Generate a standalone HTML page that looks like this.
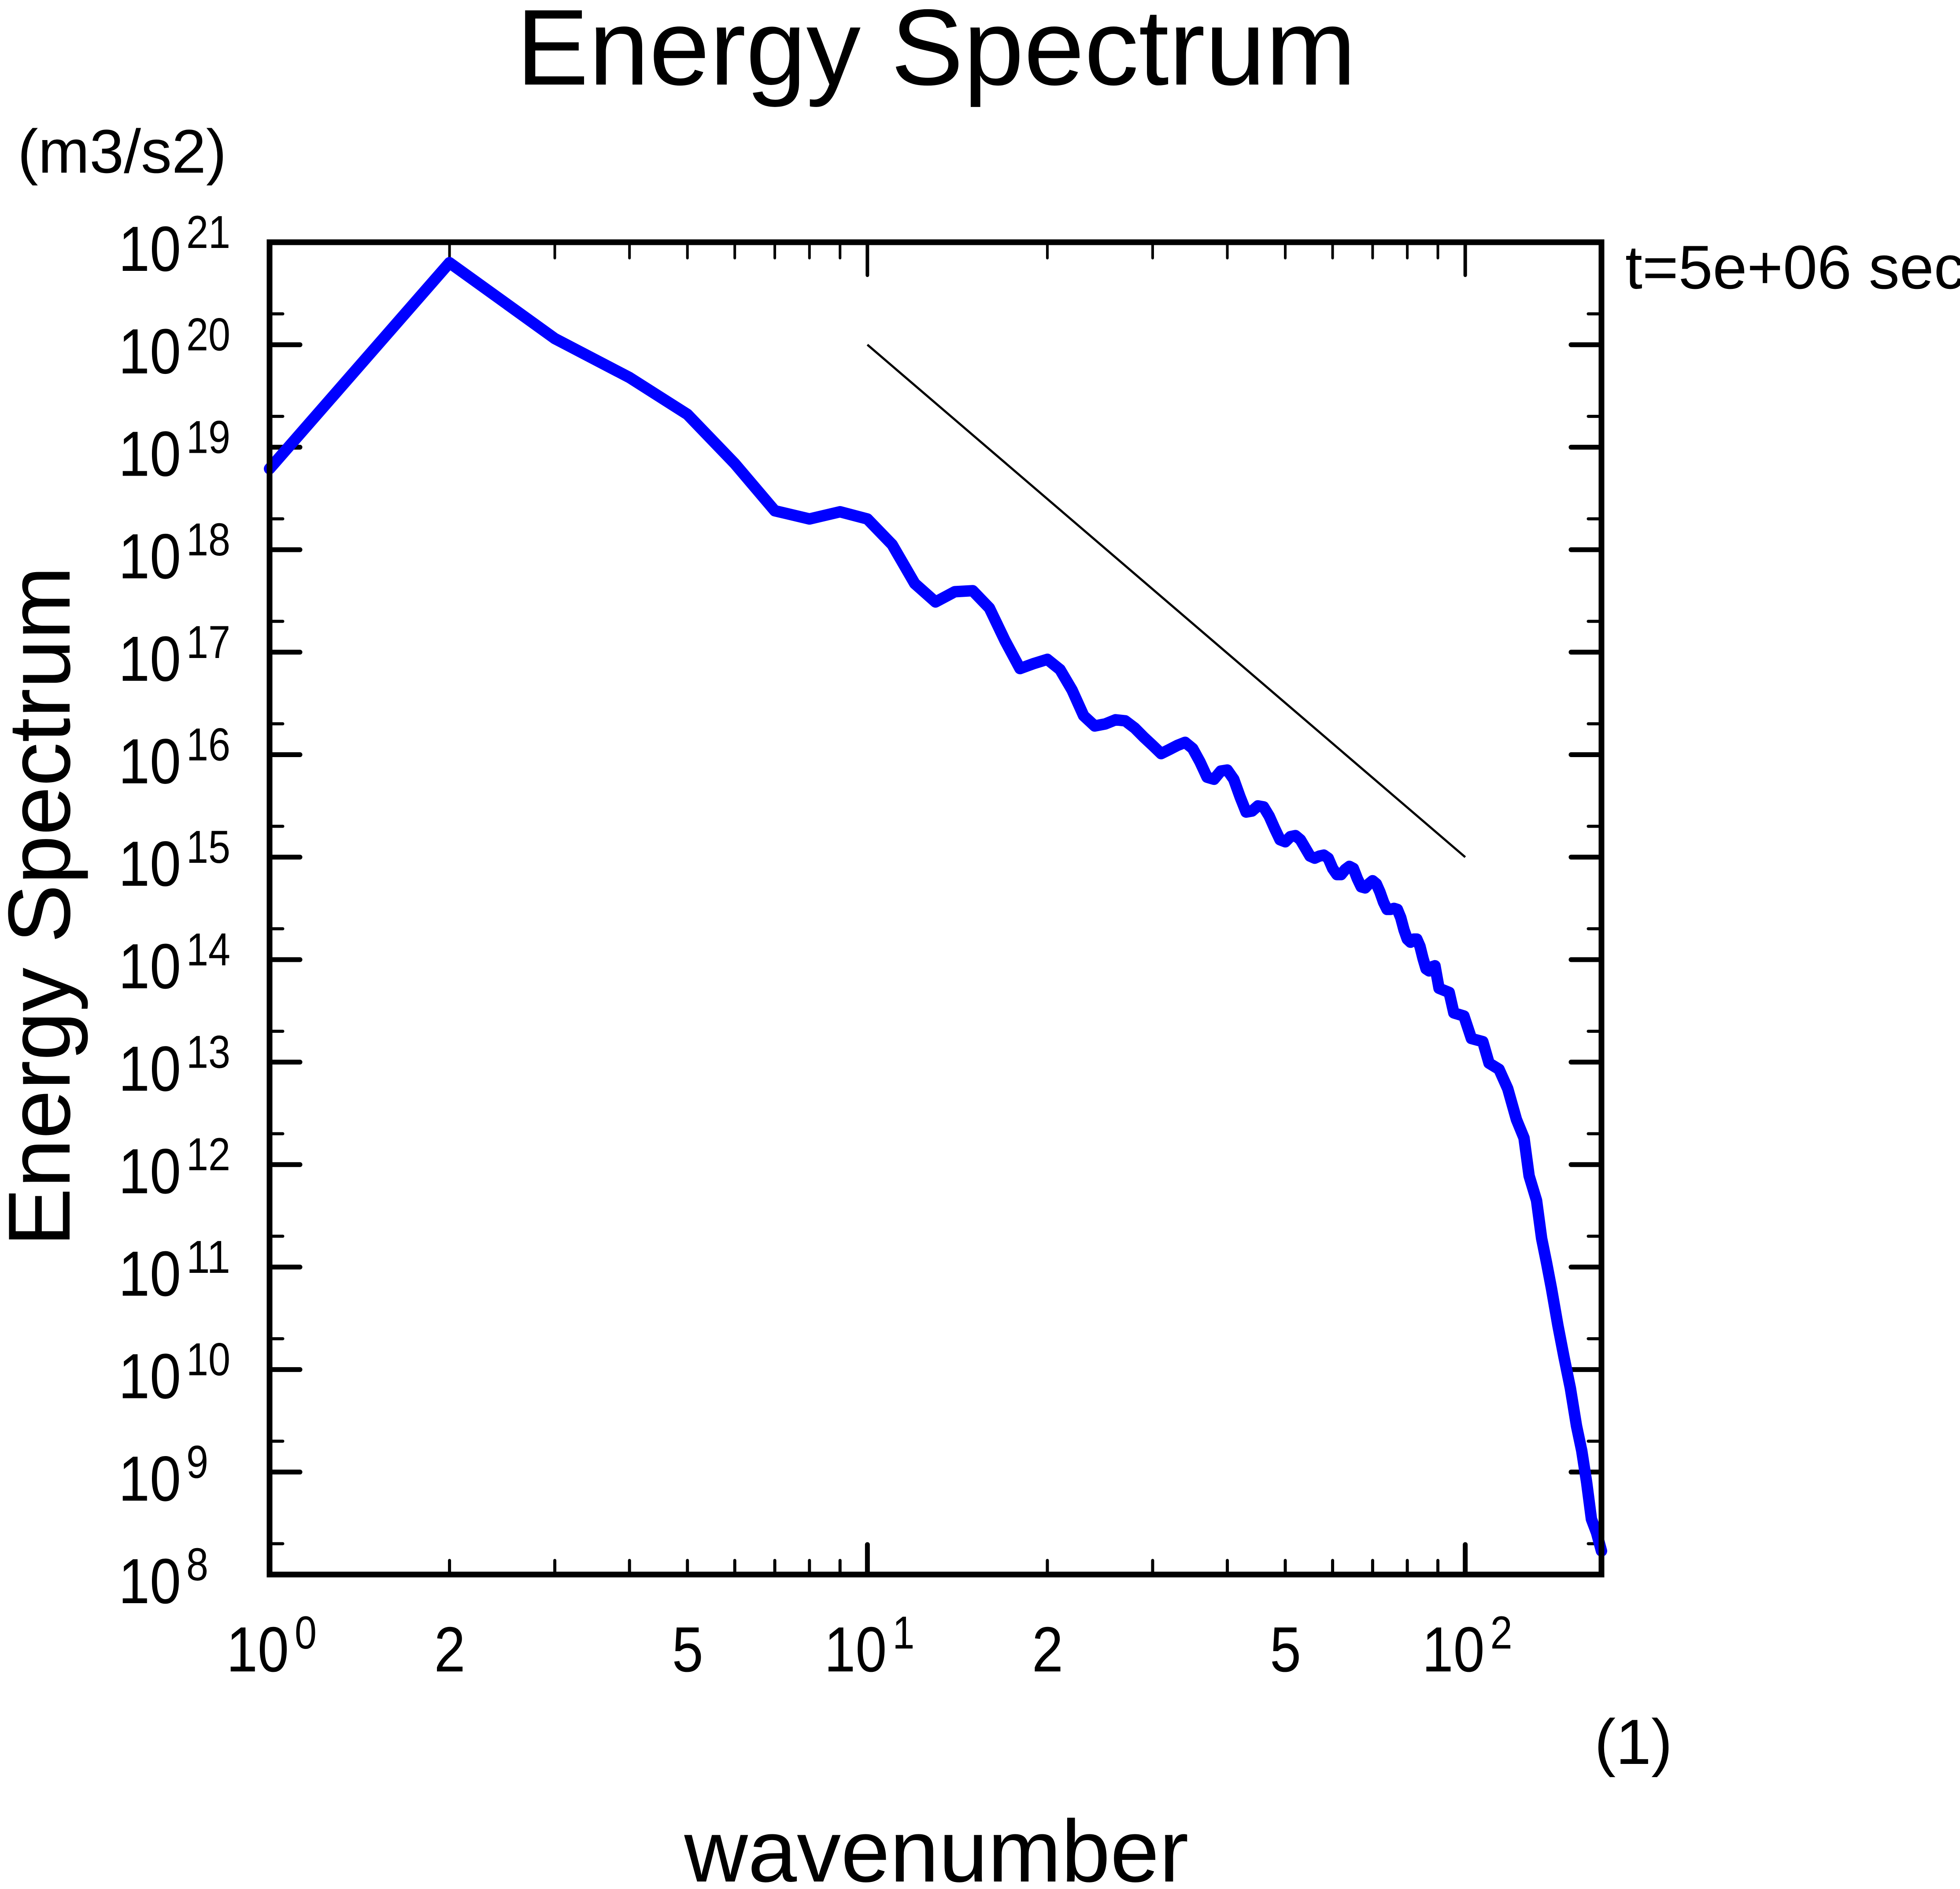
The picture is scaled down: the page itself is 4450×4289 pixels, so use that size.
<!DOCTYPE html>
<html><head><meta charset="utf-8"><style>
html,body{margin:0;padding:0;background:#fff;}
svg{display:block;font-family:"Liberation Sans",Arial,sans-serif;}
</style></head><body>
<svg id="chart" width="4450" height="4289" viewBox="0 0 4450 4289" xmlns="http://www.w3.org/2000/svg">
<rect width="4450" height="4289" fill="#fff"/>
<text x="1172" y="192" font-size="245" textLength="1907" lengthAdjust="spacingAndGlyphs">Energy Spectrum</text>
<text x="40" y="392" font-size="140">(m3/s2)</text>
<text x="3690" y="655" font-size="140">t=5e+06 sec</text>
<text x="3620" y="4005" font-size="145">(1)</text>
<text x="2126" y="4272" font-size="200" text-anchor="middle">wavenumber</text>
<text transform="translate(158,2058) rotate(-90)" font-size="200" text-anchor="middle">Energy Spectrum</text>
<g id="ticks"></g>
<g id="labels"></g>
<g id="series"></g>
<rect x="612" y="550" width="3024" height="3025" fill="none" stroke="#000" stroke-width="13"/>
</svg>
<script>
// data
const yDecades = [8,9,10,11,12,13,14,15,16,17,18,19,20,21];
const xDecadeLabels = [0,1,2];
const xMinorLabels = [2,5];
const refLineK = [10,100];
const refLineLogE = [20,15];
const wavenumber = [1,2,3,4,5,6,7,8,9,10,11,12,13,14,15,16,17,18,19,20,21,22,23,24,25,26,27,28,29,30,31,32,33,34,35,36,37,38,39,40,41,42,43,44,45,46,47,48,49,50,51,52,53,54,55,56,57,58,59,60,61,62,63,64,65,66,67,68,69,70,71,72,73,74,75,76,77,78,79,80,81,82,83,84,85,86,87,88,89,90.4,94,95.7,99.5,102.4,107,109.6,113.9,117.8,121.8,125.4,127.9,131.6,134.2,136.8,139.4,142.9,146.3,149.9,153.5,156.6,159.6,162.6,165.8,169];
const logEnergy = [18.79,20.80,20.06,19.68,19.32,18.84,18.38,18.30,18.37,18.30,18.05,17.67,17.49,17.59,17.60,17.43,17.11,16.84,16.89,16.93,16.83,16.63,16.38,16.28,16.30,16.34,16.33,16.26,16.17,16.09,16.01,16.05,16.09,16.12,16.06,15.93,15.78,15.76,15.84,15.85,15.76,15.59,15.44,15.45,15.50,15.49,15.40,15.28,15.17,15.15,15.20,15.21,15.17,15.09,15.01,14.99,15.01,15.02,14.99,14.89,14.83,14.83,14.88,14.91,14.89,14.79,14.71,14.70,14.74,14.77,14.74,14.66,14.56,14.49,14.49,14.50,14.49,14.41,14.29,14.20,14.17,14.20,14.20,14.13,14.01,13.91,13.89,13.93,13.94,13.72,13.68,13.48,13.45,13.23,13.20,12.99,12.93,12.74,12.44,12.26,11.89,11.65,11.28,11.04,10.79,10.43,10.12,9.82,9.45,9.21,8.90,8.54,8.41,8.23];

const L=612,R=3636,T=550,B=3575;
const xMinLog=0, xMaxLog=Math.log10(169);
const xDec=(R-L)/(xMaxLog-xMinLog);
const X=k=>L+(Math.log10(k)-xMinLog)*xDec;
const Y=le=>B-(le-8)*(B-T)/13;
const NS="http://www.w3.org/2000/svg";
function mk(tag,attrs,parent){const e=document.createElementNS(NS,tag);for(const a in attrs)e.setAttribute(a,attrs[a]);parent.appendChild(e);return e;}
const ticks=document.getElementById('ticks'),labels=document.getElementById('labels'),series=document.getElementById('series');
function line(x1,y1,x2,y2,w,name){const e=mk('line',{x1,y1,x2,y2,stroke:'#000','stroke-width':w,'stroke-linecap':'round'},ticks);

}
// y ticks
yDecades.forEach(d=>{const y=Y(d);
 line(L,y,L+69,y,11,'y-major-tick');line(R,y,R-69,y,11,'y-major-tick');
 if(d<21){const ym=Y(d+Math.log10(2));line(L,ym,L+30,ym,7,'y-minor-tick');line(R,ym,R-30,ym,7,'y-minor-tick');}
 const t=mk('text',{x:269,y:y+65,'font-size':145,textLength:142,lengthAdjust:'spacingAndGlyphs'},labels);
 
 
 t.textContent='10';
 const s=mk('text',{x:423,y:y+13,'font-size':105,textLength:String(d).length*50,lengthAdjust:'spacingAndGlyphs'},labels);
 
 
 s.textContent=String(d);
});
// x ticks
for(let dec=0;dec<=2;dec++){for(let m=1;m<=9;m++){const k=m*Math.pow(10,dec);if(k>169)break;const x=X(k);
 if(m===1){line(x,B,x,B-68,11,'x-major-tick');line(x,T,x,T+75,8,'x-major-tick');}
 else{line(x,B,x,B-32,7,'x-minor-tick');line(x,T,x,T+36,6,'x-minor-tick');}
}}
xDecadeLabels.forEach(d=>{const x=X(Math.pow(10,d));
 const t=mk('text',{x:x-98,y:3795,'font-size':145,textLength:142,lengthAdjust:'spacingAndGlyphs'},labels);
 
 
 t.textContent='10';
 const s=mk('text',{x:x+57,y:3743,'font-size':105,textLength:50,lengthAdjust:'spacingAndGlyphs'},labels);
 
 
 s.textContent=String(d);
});
[0,1].forEach(dec=>xMinorLabels.forEach(m=>{const t=mk('text',{x:X(m*Math.pow(10,dec))-35,y:3795,'font-size':145,textLength:71,lengthAdjust:'spacingAndGlyphs'},labels);
 
 
 t.textContent=String(m);}));
// reference line
const ref=mk('line',{x1:X(refLineK[0]),y1:Y(refLineLogE[0]),x2:X(refLineK[1]),y2:Y(refLineLogE[1]),stroke:'#000','stroke-width':5},series);


// spectrum
const pts=wavenumber.map((k,i)=>X(k).toFixed(1)+','+Y(logEnergy[i]).toFixed(1)).join(' ');
const pl=mk('polyline',{points:pts,fill:'none',stroke:'#0000ff','stroke-width':26,'stroke-linejoin':'round','stroke-linecap':'round'},series);


</script>
</body></html>
